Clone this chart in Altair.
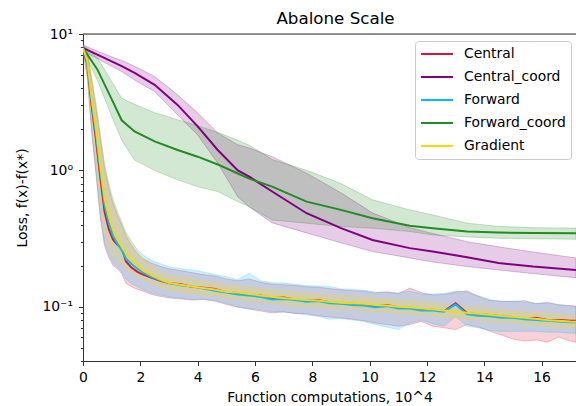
import altair as alt
import pandas as pd

methods = ["Central", "Central_coord", "Forward", "Forward_coord", "Gradient"]
colors = ["#DC143C", "#800080", "#00BFFF", "#228B22", "#FFD700"]

# ---- coordinate methods (smooth) ----
x_coord = [0, 0.5, 1.0, 1.35, 1.8, 2.5, 3.3, 4.0, 4.7, 5.4, 5.8, 6.6, 7.8, 9.0, 10.1, 11.4, 12.2, 13.4, 14.5, 15.7, 17.2]

cc_mean = [7.9, 7.05, 6.29, 5.81, 5.18, 4.24, 3.02, 2.10, 1.41, 1.0, 0.90, 0.70, 0.485, 0.377, 0.309, 0.269, 0.254, 0.231, 0.209, 0.197, 0.186]
cc_hi = [8.3, 7.5, 6.8, 6.4, 5.8, 4.88, 3.58, 2.64, 1.88, 1.54, 1.46, 1.26, 0.954, 0.684, 0.488, 0.38, 0.345, 0.30, 0.275, 0.252, 0.228]
cc_lo = [7.5, 6.6, 5.8, 5.3, 4.6, 3.79, 2.55, 1.82, 1.13, 0.64, 0.54, 0.412, 0.348, 0.294, 0.254, 0.228, 0.213, 0.197, 0.186, 0.175, 0.163]

fc_mean = [7.9, 5.5, 3.33, 2.33, 1.93, 1.63, 1.41, 1.26, 1.105, 0.948, 0.87, 0.76, 0.59, 0.513, 0.446, 0.392, 0.377, 0.356, 0.35, 0.347, 0.346]
fc_hi = [8.3, 6.7, 4.49, 3.38, 3.05, 2.65, 2.35, 2.12, 1.9, 1.66, 1.53, 1.2, 1.0, 0.80, 0.608, 0.513, 0.471, 0.41, 0.388, 0.38, 0.377]
fc_lo = [7.5, 4.6, 2.5, 1.67, 1.19, 1.0, 0.852, 0.76, 0.70, 0.59, 0.54, 0.433, 0.41, 0.387, 0.377, 0.356, 0.336, 0.325, 0.318, 0.315, 0.313]

# ---- fast methods (noisy) ----
x_fast = [0, 0.15, 0.3, 0.45, 0.6, 0.75, 0.9, 1.05, 1.2, 1.35, 1.5, 1.7, 1.9, 2.1, 2.4, 2.7, 3.0,
          3.4, 3.8, 4.2, 4.6, 5.0, 5.4, 5.8, 6.2, 6.6, 7.0, 7.4, 7.8, 8.2, 8.6, 9.0, 9.4, 9.8,
          10.2, 10.6, 11.0, 11.4, 11.8, 12.2, 12.6, 13.0, 13.4, 13.8, 14.2, 14.6, 15.0, 15.4,
          15.8, 16.2, 16.6, 17.0, 17.2]

gr_mean = [7.9, 6.4, 3.4, 2.05, 1.1, 0.62, 0.46, 0.366, 0.316, 0.274, 0.245, 0.22, 0.20, 0.184, 0.17, 0.158, 0.15,
           0.145, 0.141, 0.137, 0.134, 0.129, 0.127, 0.124, 0.121, 0.118, 0.116, 0.114, 0.112, 0.111, 0.109, 0.107, 0.106, 0.105,
           0.103, 0.102, 0.100, 0.099, 0.097, 0.096, 0.094, 0.092, 0.0905, 0.089, 0.0875, 0.0855, 0.0845, 0.083,
           0.0815, 0.080, 0.079, 0.078, 0.0777]
gr_hi = [8.3, 7.3, 4.8, 3.1, 1.9, 1.1, 0.78, 0.6, 0.5, 0.41, 0.35, 0.3, 0.255, 0.222, 0.198, 0.18, 0.17,
         0.164, 0.159, 0.154, 0.15, 0.145, 0.142, 0.139, 0.136, 0.133, 0.13, 0.128, 0.126, 0.124, 0.122, 0.12, 0.119, 0.117,
         0.115, 0.114, 0.112, 0.111, 0.109, 0.107, 0.105, 0.103, 0.101, 0.099, 0.097, 0.095, 0.094, 0.092,
         0.091, 0.089, 0.088, 0.087, 0.086]
gr_lo = [7.5, 5.4, 2.4, 1.3, 0.62, 0.36, 0.28, 0.24, 0.22, 0.205, 0.19, 0.178, 0.168, 0.158, 0.148, 0.139, 0.133,
         0.128, 0.125, 0.122, 0.119, 0.115, 0.113, 0.11, 0.108, 0.106, 0.104, 0.102, 0.1, 0.099, 0.097, 0.096, 0.095, 0.094,
         0.092, 0.091, 0.089, 0.088, 0.087, 0.086, 0.084, 0.082, 0.081, 0.08, 0.078, 0.077, 0.076, 0.074,
         0.073, 0.072, 0.071, 0.07, 0.07]

ce_mean = [7.9, 6.0, 3.0, 1.7, 0.9, 0.5, 0.37, 0.31, 0.285, 0.27, 0.215, 0.193, 0.18, 0.172, 0.163, 0.155, 0.149,
           0.146, 0.140, 0.138, 0.135, 0.128, 0.126, 0.122, 0.121, 0.116, 0.117, 0.113, 0.111, 0.112, 0.108, 0.106, 0.105, 0.104,
           0.101, 0.103, 0.099, 0.098, 0.096, 0.095, 0.093, 0.106, 0.090, 0.088, 0.087, 0.085, 0.084, 0.082,
           0.083, 0.080, 0.080, 0.079, 0.079]
ce_hi = [8.3, 7.2, 4.6, 2.9, 1.75, 1.05, 0.74, 0.57, 0.47, 0.4, 0.33, 0.28, 0.245, 0.225, 0.208, 0.198, 0.19,
         0.184, 0.178, 0.172, 0.168, 0.16, 0.155, 0.16, 0.151, 0.146, 0.145, 0.143, 0.14, 0.139, 0.136, 0.133, 0.131, 0.13,
         0.126, 0.129, 0.125, 0.137, 0.127, 0.122, 0.123, 0.128, 0.131, 0.119, 0.111, 0.11, 0.109, 0.111,
         0.105, 0.108, 0.103, 0.102, 0.101]
ce_lo = [7.5, 4.8, 1.9, 0.95, 0.45, 0.28, 0.23, 0.2, 0.19, 0.175, 0.148, 0.14, 0.134, 0.13, 0.123, 0.119, 0.116,
         0.114, 0.112, 0.113, 0.11, 0.104, 0.099, 0.096, 0.093, 0.09, 0.092, 0.089, 0.089, 0.086, 0.084, 0.083, 0.081, 0.079,
         0.076, 0.074, 0.072, 0.074, 0.078, 0.072, 0.07, 0.068, 0.074, 0.071, 0.066, 0.062, 0.058, 0.056,
         0.057, 0.055, 0.06, 0.056, 0.055]

fw_mean = [7.9, 6.2, 3.2, 1.85, 1.0, 0.56, 0.41, 0.33, 0.29, 0.26, 0.225, 0.205, 0.19, 0.178, 0.165, 0.156, 0.149,
           0.144, 0.141, 0.136, 0.131, 0.127, 0.123, 0.121, 0.118, 0.113, 0.114, 0.112, 0.109, 0.110, 0.106, 0.105, 0.103, 0.102,
           0.099, 0.101, 0.097, 0.097, 0.094, 0.094, 0.092, 0.104, 0.088, 0.086, 0.085, 0.083, 0.083, 0.081,
           0.080, 0.079, 0.078, 0.077, 0.077]
fw_hi = [8.3, 7.3, 4.9, 3.1, 1.85, 1.12, 0.8, 0.61, 0.5, 0.42, 0.35, 0.3, 0.262, 0.24, 0.218, 0.207, 0.196,
         0.19, 0.186, 0.18, 0.172, 0.166, 0.158, 0.176, 0.155, 0.15, 0.149, 0.146, 0.143, 0.142, 0.141, 0.135, 0.134, 0.132,
         0.128, 0.127, 0.126, 0.13, 0.124, 0.124, 0.125, 0.13, 0.128, 0.12, 0.113, 0.109, 0.11, 0.108,
         0.106, 0.106, 0.104, 0.101, 0.1]
fw_lo = [7.5, 5.0, 2.0, 1.0, 0.48, 0.3, 0.24, 0.21, 0.195, 0.18, 0.16, 0.147, 0.14, 0.133, 0.126, 0.122, 0.118,
         0.116, 0.113, 0.114, 0.111, 0.106, 0.1, 0.097, 0.095, 0.092, 0.091, 0.09, 0.087, 0.085, 0.081, 0.082, 0.08, 0.078,
         0.074, 0.071, 0.068, 0.076, 0.08, 0.075, 0.072, 0.085, 0.072, 0.07, 0.067, 0.066, 0.066, 0.066,
         0.066, 0.065, 0.065, 0.064, 0.064]

x_ticks = [0, 2, 4, 6, 8, 10, 12, 14, 16]
y_ticks = [0.04, 0.05, 0.06, 0.07, 0.08, 0.09, 0.1, 0.2, 0.3, 0.4, 0.5, 0.6, 0.7, 0.8, 0.9,
           1, 2, 3, 4, 5, 6, 7, 8, 9, 10]

rows = []
def add(name, xs, m, lo, hi):
    for i, x in enumerate(xs):
        rows.append({"x": x, "mean": m[i], "lo": lo[i], "hi": hi[i], "method": name})

add("Central", x_fast, ce_mean, ce_lo, ce_hi)
add("Central_coord", x_coord, cc_mean, cc_lo, cc_hi)
add("Forward", x_fast, fw_mean, fw_lo, fw_hi)
add("Forward_coord", x_coord, fc_mean, fc_lo, fc_hi)
add("Gradient", x_fast, gr_mean, gr_lo, gr_hi)
df = pd.DataFrame(rows)

W, H = 493, 327
FONT = "DejaVu Sans"
FS = 13.9

xscale = alt.Scale(domain=[0, 17.2], nice=False, zero=False)
yscale = alt.Scale(type="log", domain=[0.04, 10], nice=False)

xaxis = alt.Axis(values=x_ticks, title="Function computations, 10^4", grid=False,
                 labelFontSize=FS, titleFontSize=FS, labelFont=FONT, titleFont=FONT,
                 titleFontWeight="normal", labelColor="black", titleColor="black",
                 domainColor="#333333", tickColor="#333333", tickSize=4.5, labelPadding=5,
                 titlePadding=6, labelFlush=False)
yaxis = alt.Axis(values=y_ticks, title="Loss, f(x)-f(x*)", grid=False,
                 labelExpr="datum.value == 10 ? '10¹' : datum.value == 1 ? '10⁰' : datum.value == 0.1 ? '10⁻¹' : ''",
                 labelFontSize=FS, titleFontSize=FS, labelFont=FONT, titleFont=FONT,
                 titleFontWeight="normal", labelColor="black", titleColor="black",
                 domainColor="#333333", tickColor="#333333",
                 tickSize={"condition": {"test": "datum.value == 10 || datum.value == 1 || datum.value == 0.1", "value": 4.5}, "value": 2.6},
                 labelPadding=6, titlePadding=12, labelFlush=False)

legend = alt.Legend(orient="none", legendX=332, legendY=7, title=None,
                    symbolType="stroke", symbolSize=1024, symbolStrokeWidth=2, symbolOffset=0,
                    clipHeight=16,
                    labelFontSize=FS, labelFont=FONT, labelColor="black",
                    strokeColor="#cccccc", fillColor="rgba(255,255,255,0.8)",
                    cornerRadius=3, padding=5, rowPadding=7, labelOffset=10)
cscale = alt.Scale(domain=methods, range=colors)

base = alt.Chart(df)

band_layers = []
for m, c in zip(methods, colors):
    band_layers.append(
        base.transform_filter(alt.datum.method == m)
        .mark_area(color=c, fillOpacity=0.2, strokeOpacity=0.25, stroke=c, strokeWidth=1, clip=True)
        .encode(
            x=alt.X("x:Q", scale=xscale, axis=xaxis),
            y=alt.Y("lo:Q", scale=yscale, axis=yaxis),
            y2="hi:Q",
        )
    )

line_layers = []
for m in methods:
    line_layers.append(
        base.transform_filter(alt.datum.method == m)
        .mark_line(strokeWidth=2, clip=True)
        .encode(
            x=alt.X("x:Q", scale=xscale, axis=xaxis),
            y=alt.Y("mean:Q", scale=yscale, axis=yaxis),
            color=alt.Color("method:N", scale=cscale, legend=legend),
        )
    )

top = alt.Chart(pd.DataFrame({"a": [0]})).mark_rule(color="#333333", strokeWidth=1).encode(
    y=alt.value(0), x=alt.value(0), x2=alt.value(W)
)

chart = alt.layer(*band_layers, *line_layers, top).properties(
    width=W, height=H,
    title=alt.TitleParams("Abalone Scale", fontSize=16.7, font=FONT, fontWeight="normal",
                          color="black", anchor="middle", dx=6, offset=-1),
    padding={"left": 83, "top": 34, "right": 0, "bottom": 45},
    autosize="none",
).configure_view(stroke=None).configure(background="white").configure_legend(
    labelFontSize=FS, labelFont=FONT
)

chart.save("out.html", embed_options={"renderer": "svg", "actions": False})
